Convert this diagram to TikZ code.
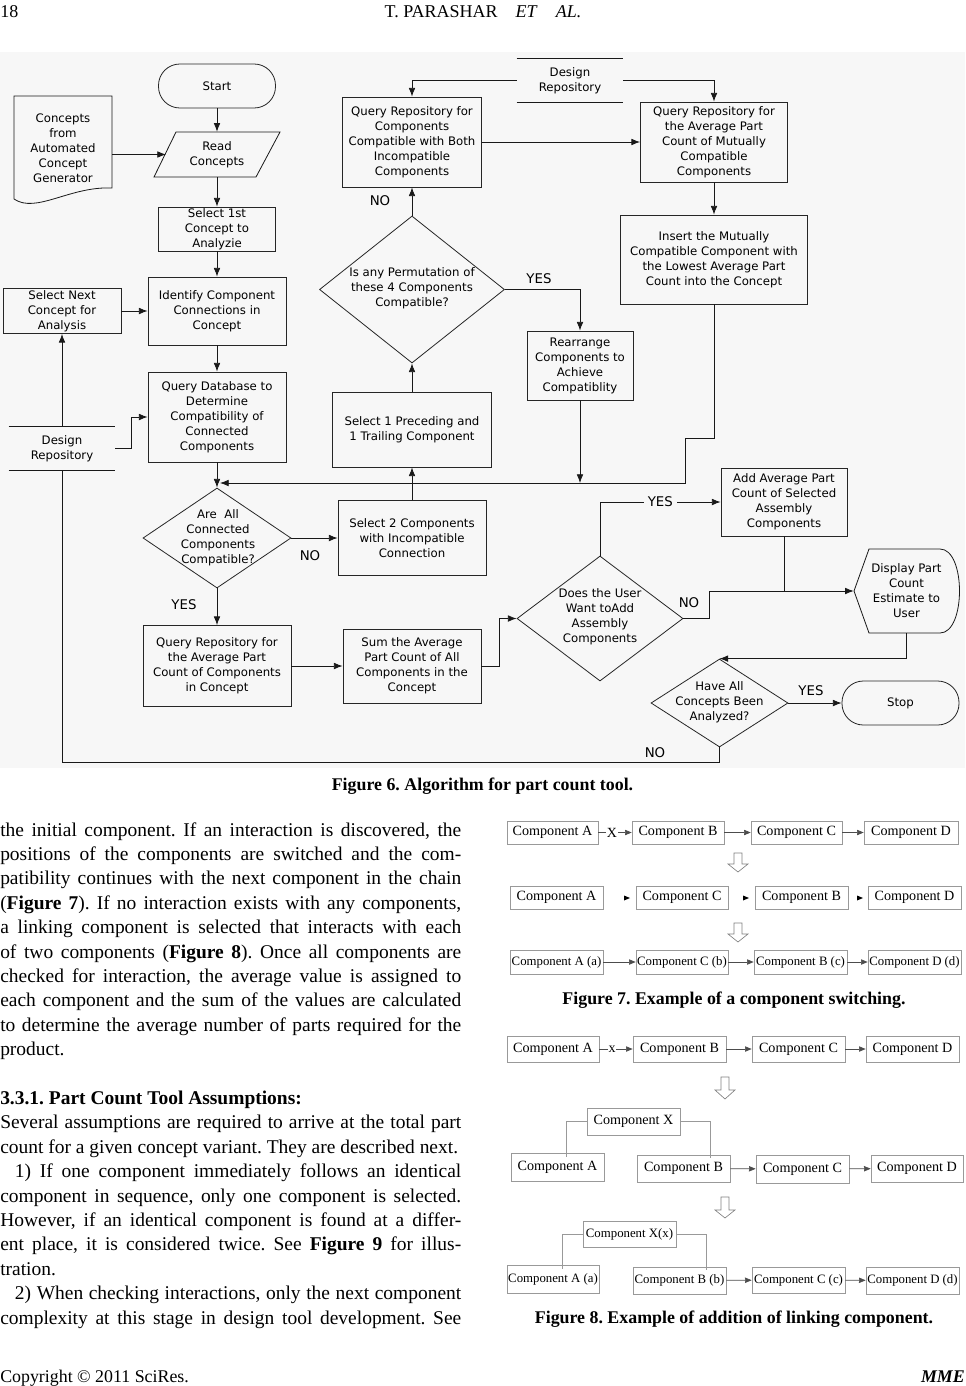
\documentclass[tikz,border=0pt]{standalone}
\usepackage{fontspec}
\setmainfont{Liberation Serif}
\newfontfamily\fcf{DejaVu Sans}
\usetikzlibrary{shapes.geometric,arrows.meta}
\definecolor{bgc}{HTML}{F7F7F7}
\newcommand{\jline}[1]{\makebox[345.75pt][s]{#1}}
\frenchspacing
\begin{document}
\begin{tikzpicture}[x=0.75pt,y=-0.75pt,
  fc/.style={font=\fcf\fontsize{8.8}{11.25}\selectfont, align=center, inner sep=0pt},
  box/.style={draw=black!85, line width=0.6pt, fc},
  dia/.style={draw=black!85, line width=0.6pt, diamond, inner sep=0pt},
  yn/.style={font=\fcf\fontsize{10}{12}\selectfont, inner sep=1.5pt},
  cline/.style={line width=0.6pt, draw=black!90},
  arr/.style={cline, -{Latex[length=6.5pt,width=5pt]}},
  body/.style={anchor=base west, inner sep=0pt, font=\fontsize{14.6}{18}\selectfont},
  capt/.style={anchor=base, inner sep=0pt, font=\bfseries\fontsize{13.4}{16}\selectfont},
  cb/.style={draw=black!40, line width=0.5pt, inner sep=0pt, font=\fontsize{10.6}{12}\selectfont},
  cbs/.style={cb, font=\fontsize{9.6}{11}\selectfont},
  carr/.style={draw=black!70, line width=0.5pt, -{Triangle[length=5pt,width=4pt]}},
  hol/.style={draw=black!50, line width=0.5pt}
]
\useasboundingbox (0,0) rectangle (965,1386);
\fill[bgc] (0,52) rectangle (965,768);

% header / footer
\node[anchor=base west, inner sep=0pt, font=\fontsize{13.5}{16}\selectfont] (pg) at (0,17) {18};
\node[anchor=base, inner sep=0pt, font=\fontsize{13.5}{16}\selectfont] (hd) at (483,17) {T. PARASHAR\quad\textit{ET}\quad\textit{AL.}};
\node[anchor=base west, inner sep=0pt, font=\fontsize{13.4}{16}\selectfont] (ft) at (0,1382) {Copyright © 2011 SciRes.};
\node[anchor=base east, inner sep=0pt, font=\fontsize{13.4}{16}\selectfont] (mme) at (965,1382) {\textbf{\textit{MME}}};

% ===== Figure 6 flowchart =====
\node[box, rounded corners=16pt, minimum width=87.75pt, minimum height=33pt] (start) at (217,86) {Start};
\node[fc, minimum width=73.5pt, minimum height=78pt] (doc) at (63,148) {Concepts\\from\\Automated\\Concept\\Generator};
\draw[cline] (14,96) -- (14,199) .. controls (36,214) and (70,186) .. (112,188) -- (112,96) -- cycle;
\draw[cline] (176,132) -- (280,132) -- (256,177) -- (154,177) -- cycle;
\node[fc, minimum width=75pt, minimum height=33.75pt] (read) at (217,154.5) {Read\\Concepts};
\coordinate (readL) at (166,154.5);
\node[box, minimum width=87.75pt, minimum height=33pt] (sel1) at (217,229) {Select 1st\\Concept to\\Analyzie};
\node[box, minimum width=103.5pt, minimum height=51pt] (ident) at (217,311) {Identify Component\\Connections in\\Concept};
\node[box, minimum width=88.5pt, minimum height=33.75pt] (selnext) at (62,311) {Select Next\\Concept for\\Analysis};
\node[box, minimum width=103.5pt, minimum height=67.5pt] (qdb) at (217,417) {Query Database to\\Determine\\Compatibility of\\Connected\\Components};
\node[fc, minimum width=79.5pt, minimum height=32.25pt] (drL) at (62,448.5) {Design\\Repository};
\draw[cline] (drL.north west) -- (drL.north east);
\draw[cline] (drL.south west) -- (drL.south east);
\node[dia, minimum width=111pt, minimum height=75pt] (areall) at (217,538) {};
\node[fc] (areallT) at (218,537.5) {Are\ \ All\\Connected\\Components\\Compatible?};
\node[box, minimum width=111pt, minimum height=56.25pt] (sel2) at (412,538) {Select 2 Components\\with Incompatible\\Connection};
\node[box, minimum width=111pt, minimum height=60.75pt] (qavgc) at (217,666) {Query Repository for\\the Average Part\\Count of Components\\in Concept};
\node[box, minimum width=103.5pt, minimum height=55.5pt] (sum) at (412,666) {Sum the Average\\Part Count of All\\Components in the\\Concept};
\node[box, minimum width=119.25pt, minimum height=56.25pt] (sel1p) at (412,429.5) {Select 1 Preceding and\\1 Trailing Component};
\node[dia, minimum width=138.75pt, minimum height=110.25pt] (perm) at (412,289.5) {};
\node[fc] (permT) at (412,288) {Is any Permutation of\\these 4 Components\\Compatible?};
\node[box, minimum width=104.25pt, minimum height=67.5pt] (qboth) at (412,142) {Query Repository for\\Components\\Compatible with Both\\Incompatible\\Components};
\node[box, minimum width=79.5pt, minimum height=51.75pt] (rearr) at (580,365.5) {Rearrange\\Components to\\Achieve\\Compatiblity};
\node[fc, minimum width=79.5pt, minimum height=32.25pt] (drT) at (570,80.5) {Design\\Repository};
\draw[cline] (drT.north west) -- (drT.north east);
\draw[cline] (drT.south west) -- (drT.south east);
\node[box, minimum width=110.25pt, minimum height=60pt] (qavgm) at (714,142) {Query Repository for\\the Average Part\\Count of Mutually\\Compatible\\Components};
\node[box, minimum width=140.25pt, minimum height=66.75pt] (insert) at (714,259.5) {Insert the Mutually\\Compatible Component with\\the Lowest Average Part\\Count into the Concept};
\node[box, minimum width=94.5pt, minimum height=51pt] (addavg) at (784,502) {Add Average Part\\Count of Selected\\Assembly\\Components};
\node[dia, minimum width=124.5pt, minimum height=93.75pt] (does) at (600,618.5) {};
\node[fc] (doesT) at (600,617) {Does the User\\Want toAdd\\Assembly\\Components};
\node[fc, minimum width=78.75pt, minimum height=63pt] (disp) at (906.5,591) {Display Part\\Count\\Estimate to\\User};
\draw[cline] (854,591) -- (869,549) -- (940,549) .. controls (966,549) and (966,633) .. (940,633) -- (869,633) -- cycle;
\node[dia, minimum width=102.75pt, minimum height=66pt] (haveall) at (719.5,703) {};
\node[fc] (haveallT) at (719.5,702) {Have All\\Concepts Been\\Analyzed?};
\node[box, rounded corners=16pt, minimum width=87.75pt, minimum height=33pt] (stop) at (900.5,703) {Stop};

% connectors
\draw[arr] (start) -- (read);
\draw[arr] (read) -- (sel1);
\draw[arr] (doc.east |- readL) -- (readL);
\draw[arr] (sel1) -- (ident);
\draw[arr] (selnext) -- (ident);
\draw[arr] (ident) -- (qdb);
\draw[arr] (drL.north) -- (selnext.south);
\draw[arr] (drL.east) -- ++(16,0) |- (qdb.west);
\draw[arr] (qdb) -- (areall);
\draw[arr] (areall) -- (sel2);
\draw[arr] (areall) -- (qavgc);
\draw[arr] (qavgc) -- (sum);
\draw[arr] (sum.east) -- ++(18,0) |- (does.west);
\draw[arr] (sel2) -- (sel1p);
\draw[arr] (sel1p) -- (perm);
\draw[arr] (perm) -- (qboth);
\draw[arr] (perm.east) -| (rearr.north);
\draw[arr] (drT.west) -| (qboth.north);
\draw[arr] (drT.east) -| (qavgm.north);
\draw[arr] (qboth) -- (qavgm);
\draw[arr] (qavgm) -- (insert);
\coordinate (jog) at (685,438);
\coordinate (merge) at (220,483);
\draw[arr] (insert.south) |- (jog) |- (merge);
\draw[arr] (rearr.south) -- (rearr.south |- merge);
\draw[arr] (does.north) |- node[yn, fill=bgc, pos=0.75, inner sep=3pt] (yes3) {YES} (addavg.west);
\draw[arr] (does.east) -- ++(26,0) |- (disp.west);
\draw[cline] (addavg.south) -- (addavg.south |- disp.west);
\draw[arr] (disp.south) |- (haveall.north);
\draw[arr] (haveall) -- (stop);
\draw[cline] (haveall.south) -- ++(0,15) -| (drL.south);

\node[yn] (no1) at (380,201) {NO};
\node[yn] (yes1) at (539,279) {YES};
\node[yn] (no2) at (310,556) {NO};
\node[yn] (yes2) at (184,605) {YES};
\node[yn] (no3) at (689,603) {NO};
\node[yn] (yes4) at (811,691) {YES};
\node[yn, fill=bgc, inner sep=3pt] (no4) at (655,753) {NO};

\node[capt] (cap6) at (482.5,790) {Figure 6. Algorithm for part count tool.};

% ===== body text =====
\node[body] (t1) at (0,836) {\jline{the initial component. If an interaction is discovered, the}};
\node[body] (t2) at (0,860.4) {\jline{positions of the components are switched and the com-}};
\node[body] (t3) at (0,884.8) {\jline{patibility continues with the next component in the chain}};
\node[body] (t4) at (0,909.2) {\jline{(\textbf{Figure 7}). If no interaction exists with any components,}};
\node[body] (t5) at (0,933.6) {\jline{a linking component is selected that interacts with each}};
\node[body] (t6) at (0,958) {\jline{of two components (\textbf{Figure 8}). Once all components are}};
\node[body] (t7) at (0,982.4) {\jline{checked for interaction, the average value is assigned to}};
\node[body] (t8) at (0,1006.8) {\jline{each component and the sum of the values are calculated}};
\node[body] (t9) at (0,1031.2) {\jline{to determine the average number of parts required for the}};
\node[body] (t10) at (0,1055.6) {product.};
\node[body] (h1) at (0,1104.4) {\textbf{3.3.1. Part Count Tool Assumptions:}};
\node[body] (t11) at (0,1128.8) {\jline{Several assumptions are required to arrive at the total part}};
\node[body] (t12) at (0,1153.2) {count for a given concept variant. They are described next.};
\node[body] (t13) at (0,1177.6) {\jline{\hspace*{11pt}1) If one component immediately follows an identical}};
\node[body] (t14) at (0,1202) {\jline{component in sequence, only one component is selected.}};
\node[body] (t15) at (0,1226.4) {\jline{However, if an identical component is found at a differ-}};
\node[body] (t16) at (0,1250.8) {\jline{ent place, it is considered twice. See \textbf{Figure 9} for illus-}};
\node[body] (t17) at (0,1275.2) {tration.};
\node[body] (t18) at (0,1299.6) {\jline{\hspace*{11pt}2) When checking interactions, only the next component}};
\node[body] (t19) at (0,1324) {\jline{complexity at this stage in design tool development. See}};

% ===== Figure 7 =====
\node[cb, minimum width=68.25pt, minimum height=17.25pt] (f7a1) at (552.5,832.5) {Component A};
\node[cb, minimum width=69pt, minimum height=17.25pt] (f7b1) at (678,832.5) {Component B};
\node[cb, minimum width=68.25pt, minimum height=17.25pt] (f7c1) at (796.5,832.5) {Component C};
\node[cb, minimum width=70.5pt, minimum height=17.25pt] (f7d1) at (911,832.5) {Component D};
\draw[carr] (f7a1) -- (f7b1);
\node[inner sep=0.5pt, fill=white, font=\fontsize{10.5}{12}\selectfont] (x7) at (612,832.5) {X};
\draw[carr] (f7b1) -- (f7c1);
\draw[carr] (f7c1) -- (f7d1);
\draw[hol] (734,853) -- (742,853) -- (742,864) -- (748,864) -- (738,872) -- (728,864) -- (734,864) -- cycle;
\node[cb, minimum width=69.75pt, minimum height=17.25pt] (f7a2) at (556.5,897.5) {Component A};
\node[cb, minimum width=69pt, minimum height=17.25pt] (f7c2) at (682,897.5) {Component C};
\node[cb, minimum width=69.75pt, minimum height=17.25pt] (f7b2) at (801.5,897.5) {Component B};
\node[cb, minimum width=69.75pt, minimum height=17.25pt] (f7d2) at (914.5,897.5) {Component D};
\fill[black] (624,895.5) -- (630,898) -- (624,900.5) -- cycle;
\fill[black] (743,895.5) -- (749,898) -- (743,900.5) -- cycle;
\fill[black] (857,895.5) -- (863,898) -- (857,900.5) -- cycle;
\draw[hol] (734,923) -- (742,923) -- (742,934) -- (748,934) -- (738,942) -- (728,934) -- (734,934) -- cycle;
\node[cbs, minimum width=69.75pt, minimum height=18pt] (f7a3) at (556.5,962) {Component A (a)};
\node[cbs, minimum width=69pt, minimum height=18pt] (f7c3) at (682,962) {Component C (b)};
\node[cbs, minimum width=69.75pt, minimum height=18pt] (f7b3) at (800.5,962) {Component B (c)};
\node[cbs, minimum width=69.75pt, minimum height=18pt] (f7d3) at (914.5,962) {Component D (d)};
\draw[carr] (f7a3) -- (f7c3);
\draw[carr] (f7c3) -- (f7b3);
\draw[carr] (f7b3) -- (f7d3);
\node[capt] (cap7) at (734,1004) {Figure 7. Example of a component switching.};

% ===== Figure 8 =====
\node[cb, minimum width=69pt, minimum height=19.5pt] (f8a1) at (553,1049) {Component A};
\node[cb, minimum width=69.75pt, minimum height=19.5pt] (f8b1) at (679.5,1049) {Component B};
\node[cb, minimum width=69.75pt, minimum height=19.5pt] (f8c1) at (798.5,1049) {Component C};
\node[cb, minimum width=69.75pt, minimum height=19.5pt] (f8d1) at (912.5,1049) {Component D};
\draw[carr] (f8a1) -- (f8b1);
\node[inner sep=0.5pt, fill=white, font=\fontsize{10.5}{12}\selectfont] (x8) at (612,1049) {x};
\draw[carr] (f8b1) -- (f8c1);
\draw[carr] (f8c1) -- (f8d1);
\draw[hol] (721,1077) -- (729,1077) -- (729,1090) -- (735,1090) -- (725,1099) -- (715,1090) -- (721,1090) -- cycle;
\node[cb, minimum width=69.75pt, minimum height=20.25pt] (f8x2) at (633.5,1121.5) {Component X};
\node[cb, minimum width=69.75pt, minimum height=21pt] (f8a2) at (557.5,1167) {Component A};
\node[cb, minimum width=69.75pt, minimum height=20.25pt] (f8b2) at (683.5,1168.5) {Component B};
\node[cb, minimum width=69.75pt, minimum height=21pt] (f8c2) at (802.5,1169) {Component C};
\node[cb, minimum width=69pt, minimum height=20.25pt] (f8d2) at (917,1168.5) {Component D};
\coordinate (k1) at (566,1156.5);
\coordinate (k2) at (710,1158);
\draw[draw=black!40, line width=0.5pt] (f8x2.west) -| (k1);
\draw[draw=black!40, line width=0.5pt] (f8x2.east) -| (k2);
\draw[carr] (f8b2) -- (f8c2);
\draw[carr] (f8c2) -- (f8d2);
\draw[hol] (721,1197) -- (729,1197) -- (729,1210) -- (735,1210) -- (725,1218) -- (715,1210) -- (721,1210) -- cycle;
\node[cbs, minimum width=69.75pt, minimum height=19.5pt] (f8x3) at (629.5,1234) {Component X(x)};
\node[cbs, minimum width=69pt, minimum height=21pt] (f8a3) at (553,1279) {Component A (a)};
\node[cbs, minimum width=69.75pt, minimum height=20.25pt] (f8b3) at (679.5,1280.5) {Component B (b)};
\node[cbs, minimum width=69.75pt, minimum height=19.5pt] (f8c3) at (798.5,1280) {Component C (c)};
\node[cbs, minimum width=69.75pt, minimum height=20.25pt] (f8d3) at (912.5,1280.5) {Component D (d)};
\coordinate (k3) at (562,1268.5);
\coordinate (k4) at (706,1270);
\draw[draw=black!40, line width=0.5pt] (f8x3.west) -| (k3);
\draw[draw=black!40, line width=0.5pt] (f8x3.east) -| (k4);
\draw[carr] (f8b3) -- (f8c3);
\draw[carr] (f8c3) -- (f8d3);
\node[capt] (cap8) at (734,1323) {Figure 8. Example of addition of linking component.};
\end{tikzpicture}
\end{document}
